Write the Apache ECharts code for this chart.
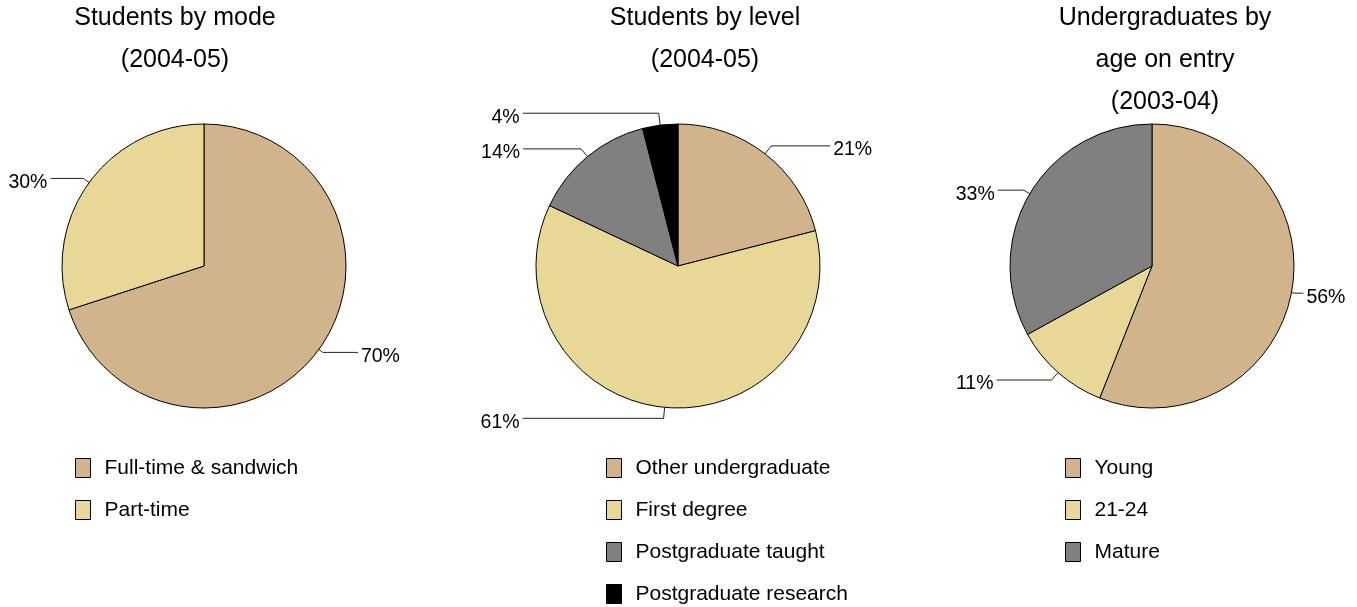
<!DOCTYPE html>
<html>
<head>
<meta charset="utf-8">
<script src="https://cdn.jsdelivr.net/npm/echarts@6/dist/echarts.min.js"></script>
<style>
  html, body { margin: 0; padding: 0; background: #fff; }
  #chart { width: 1357px; height: 607px; }
</style>
</head>
<body>
<div id="chart"></div>
<script>
// Chart data
const modeCategories = ['Full-time & sandwich', 'Part-time'];
const modeValues = [70, 30];

const levelCategories = ['Other undergraduate', 'First degree', 'Postgraduate taught', 'Postgraduate research'];
const levelValues = [21, 61, 14, 4];

const ageCategories = ['Young', '21-24', 'Mature'];
const ageValues = [56, 11, 33];

const titles = [
  'Students by mode\n(2004-05)',
  'Students by level\n(2004-05)',
  'Undergraduates by\nage on entry\n(2003-04)'
];

// Styling
const FONT = "'Liberation Sans', Arial, Helvetica, sans-serif";
const palette = ['#D2B48C', '#E8D898', '#808080', '#000000'];

// Leader line lengths per slice: [radial part, horizontal part]
const modeLeaders = [[5, 35], [7, 33]];
const levelLeaders = [[10, 59], [11, 141], [10, 58], [12, 136]];
const ageLeaders = [[3, 9], [10, 55], [7, 26]];

const PIE_R = 142;
const PIE_Y = 266;
const pies = [
  { cats: modeCategories, vals: modeValues, leaders: modeLeaders, cx: 204, titleX: 175, legendX: 75 },
  { cats: levelCategories, vals: levelValues, leaders: levelLeaders, cx: 678, titleX: 705, legendX: 606 },
  { cats: ageCategories, vals: ageValues, leaders: ageLeaders, cx: 1152, titleX: 1165, legendX: 1065 }
];

const chart = echarts.init(document.getElementById('chart'), null, { renderer: 'canvas' });

const option = {
  backgroundColor: '#ffffff',
  animation: false,
  color: palette,
  title: pies.map((p, i) => ({
    text: titles[i],
    left: p.titleX,
    top: -3,
    padding: 0,
    textAlign: 'center',
    textStyle: {
      fontFamily: FONT,
      fontSize: 25,
      fontWeight: 'normal',
      color: '#000',
      lineHeight: 42
    }
  })),
  legend: pies.map((p, i) => ({
    seriesIndex: i,
    data: p.cats,
    orient: 'vertical',
    left: p.legendX,
    top: 457.5,
    height: 300,
    padding: 0,
    icon: 'rect',
    itemWidth: 15,
    itemHeight: 19,
    itemGap: 21,
    selectedMode: false,
    itemStyle: { borderColor: '#000', borderWidth: 1 },
    textStyle: {
      fontFamily: FONT,
      fontSize: 21,
      color: '#000',
      padding: [0, 0, 0, 9]
    }
  })),
  series: pies.map((p) => ({
    type: 'pie',
    center: [p.cx, PIE_Y],
    radius: PIE_R,
    startAngle: 90,
    clockwise: true,
    avoidLabelOverlap: false,
    silent: true,
    itemStyle: { borderColor: '#000', borderWidth: 1 },
    label: {
      show: true,
      position: 'outside',
      // a thin spacer line above the value sits the text just below its leader
      formatter: '{s|}\n{v|{c}%}',
      color: '#000',
      distanceToLabelLine: 3,
      rich: {
        s: { lineHeight: 8, fontSize: 1 },
        v: { fontFamily: FONT, fontSize: 19.5, lineHeight: 22, color: '#000' }
      }
    },
    labelLine: {
      show: true,
      smooth: false,
      lineStyle: { color: '#222', width: 1 }
    },
    data: p.cats.map((name, j) => ({
      name: name,
      value: p.vals[j],
      itemStyle: { color: palette[j] },
      labelLine: { length: p.leaders[j][0], length2: p.leaders[j][1] }
    }))
  }))
};

chart.setOption(option);
</script>
</body>
</html>
